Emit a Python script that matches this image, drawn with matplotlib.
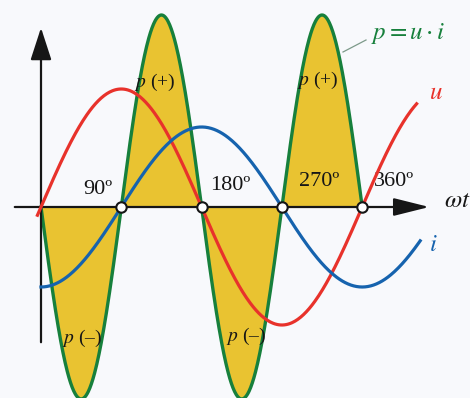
import numpy as np
import matplotlib.pyplot as plt

# angle marks on the wt axis (degrees)
tick_angles = [90, 180, 270, 360]
tick_labels = ['90º', '180º', '270º', '360º']

# amplitudes (pixels above the axis)
u_amp = 118
i_amp = 80
p_amp = 192

# angle span of each curve (degrees)
u_span = (-4, 421)
i_span = (0, 425)
p_span = (0, 360)

# colours
red = '#e8322b'
blue = '#1663ae'
green = '#17803c'
gold = '#e9c331'
black = '#161616'

W, H = 470, 398
x0, y0 = 41, 207          # origin in pixels
deg_px = 80.3 / 90         # pixels per degree


def px(x, y):
    # pixel position -> axes fraction
    return x / W, 1 - y / H


plt.rcParams['mathtext.fontset'] = 'stix'

fig = plt.figure(figsize=(W / 100, H / 100), dpi=100)
fig.patch.set_facecolor('#f8f9fc')
ax = fig.add_axes([0, 0, 1, 1])
ax.set_facecolor('#f8f9fc')
ax.set_xlim(-x0 / deg_px, (W - x0) / deg_px)
ax.set_ylim(y0 - H, y0)
ax.axis('off')

rad = np.radians

t = np.linspace(*u_span, 400)
u = u_amp * np.sin(rad(t))
t_i = np.linspace(*i_span, 400)
i = -i_amp * np.cos(rad(t_i))
t_p = np.linspace(*p_span, 600)
p = 2 * p_amp * (np.sin(rad(t_p)) * -np.cos(rad(t_p)))

# power p = u*i, filled
ax.fill_between(t_p, 0, p, color=gold, lw=0, zorder=1)
ax.plot(t_p, p, color=green, lw=2.4, zorder=2)

# axes with arrow heads
ax.annotate('', xy=(0, y0 - 25), xytext=(0, y0 - 345),
            arrowprops=dict(arrowstyle='-|>,head_length=2.0,head_width=0.65',
                            mutation_scale=10, color=black, lw=1.6), zorder=3)
ax.annotate('', xy=((432 - x0) / deg_px, 0), xytext=((12 - x0) / deg_px, 0),
            arrowprops=dict(arrowstyle='-|>,head_length=2.2,head_width=0.55',
                            mutation_scale=10, color=black, lw=1.6), zorder=3)

ax.plot(t, u, color=red, lw=2.3, zorder=4)
ax.plot(t_i, i, color=blue, lw=2.3, zorder=4)

# zero crossings
ax.plot(tick_angles, np.zeros(len(tick_angles)), 'o', ms=7.5,
        mfc='white', mec=black, mew=1.5, zorder=5)

serif = 'Liberation Serif'
fs = 16
lab_pos = [(98, 190), (230, 186), (319, 182), (394, 182)]
for lab, (lx, ly) in zip(tick_labels, lab_pos):
    ax.text(*px(lx, ly), lab, transform=ax.transAxes, family=serif,
            fontsize=fs, ha='center', va='center', color=black)

for (lx, ly), sign in [((155, 82), '(+)'), ((318, 80), '(+)'),
                       ((82, 338), '(–)'), ((246, 336), '(–)')]:
    ax.text(*px(lx, ly), r'$p$ ' + sign, transform=ax.transAxes,
            family=serif, fontsize=14, ha='center', va='center', color=black)

ax.text(*px(444, 200), r'$\omega t$', transform=ax.transAxes,
        fontsize=18, ha='left', va='center', color=black)
ax.text(*px(429, 92), r'$u$', transform=ax.transAxes,
        fontsize=18, ha='left', va='center', color=red)
ax.text(*px(429, 244), r'$i$', transform=ax.transAxes,
        fontsize=18, ha='left', va='center', color=blue)
ax.text(*px(371, 34), r'$p = u \cdot i$', transform=ax.transAxes,
        fontsize=18, ha='left', va='center', color=green)
ax.plot(*zip(px(343, 52), px(366, 40)), transform=ax.transAxes,
        color='#7d9a8a', lw=0.9, zorder=3)

fig.savefig('out.png', dpi=100, facecolor=fig.get_facecolor())
